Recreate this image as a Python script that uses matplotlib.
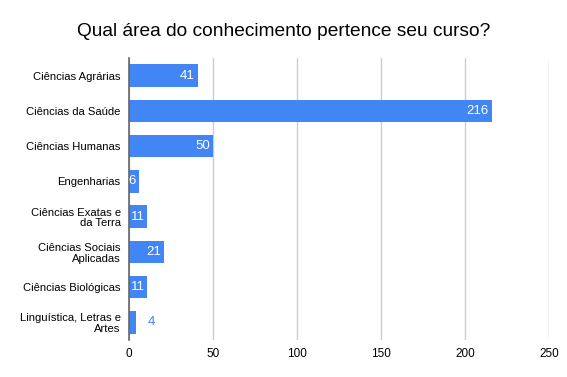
import matplotlib.pyplot as plt
from matplotlib import rcParams

rcParams['font.family'] = ['Liberation Sans', 'DejaVu Sans']

categories = ['Ciências Agrárias', 'Ciências da Saúde', 'Ciências Humanas', 'Engenharias',
              'Ciências Exatas e\nda Terra', 'Ciências Sociais\nAplicadas', 'Ciências Biológicas',
              'Linguística, Letras e\nArtes']
counts = [41, 216, 50, 6, 11, 21, 11, 4]
xticks = [0, 50, 100, 150, 200, 250]

blue = '#4285f4'

fig = plt.figure(figsize=(5.67, 3.77), dpi=100)
ax = fig.add_axes([129 / 567, 1 - 340 / 377, 420 / 567, 282 / 377])

ypos = list(range(len(categories)))
ax.barh(ypos, counts, height=0.64, color=blue, zorder=2)
ax.set_ylim(len(categories) - 0.5, -0.5)
ax.set_xlim(0, 250)
ax.set_xticks(xticks)
ax.set_yticks(ypos)
ax.set_yticklabels(categories, fontsize=8.1, linespacing=1.1)
ax.tick_params(axis='x', labelsize=8.5, length=0, pad=6)
ax.tick_params(axis='y', length=0, pad=6)
ax.xaxis.grid(True, color='#cccccc', linewidth=1, zorder=0)
for s in ['top', 'right', 'bottom']:
    ax.spines[s].set_visible(False)
ax.spines['left'].set_color('#666666')
ax.spines['left'].set_zorder(3)
ax.spines['left'].set_linewidth(1.2)

for y, v in zip(ypos, counts):
    if v >= 5:
        ax.text(v - 1.8, y, str(v), color='white', fontsize=9.5, ha='right', va='center', zorder=4)
    else:
        ax.text(v + 7, y, str(v), color=blue, fontsize=9.5, ha='left', va='center', zorder=4)

fig.text(0.5, 1 - 31 / 377, 'Qual área do conhecimento pertence seu curso?', fontsize=13.8,
         ha='center', va='center')

fig.savefig('out.png', dpi=100)
